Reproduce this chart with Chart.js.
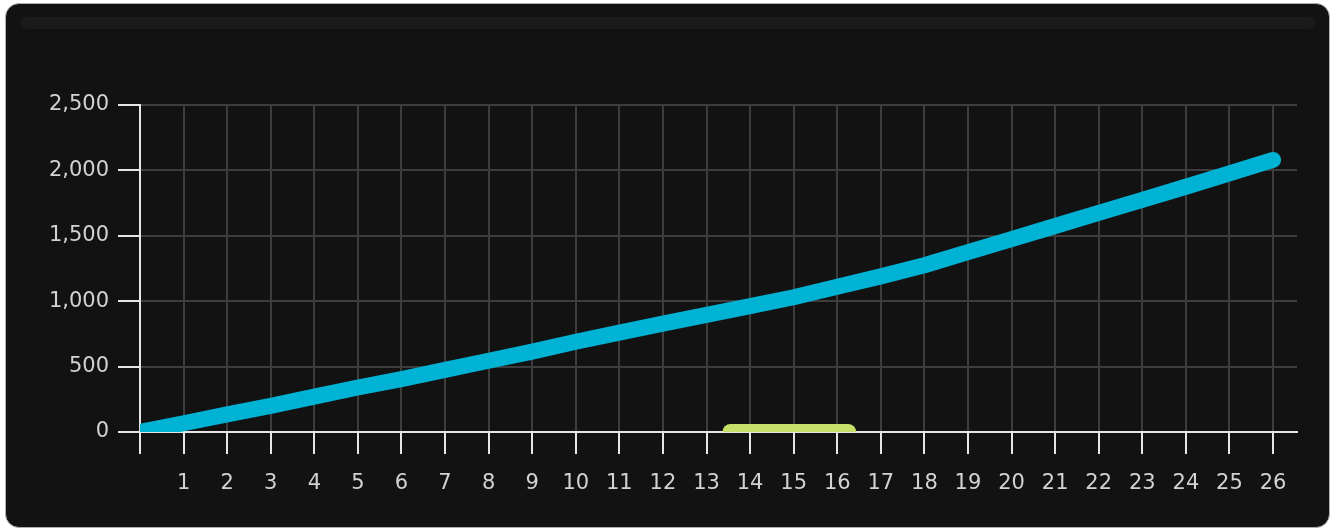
<!DOCTYPE html>
<html>
<head>
<meta charset="utf-8">
<script src="https://cdn.jsdelivr.net/npm/chart.js@4"></script>
<style>
  html, body { margin: 0; padding: 0; background: #ffffff; }
  #caja {
    position: absolute; left: 5px; top: 3px; width: 1323px; height: 523px;
    background: #121212; border: 1px solid #b0b0b0; border-radius: 14px; overflow: hidden;
  }
  #banda {
    position: absolute; left: 14px; top: 13px; width: 1296px; height: 12px;
    background: #1a1a1a; border-radius: 6px;
  }
  #grafico { position: absolute; left: 0; top: 0; }
</style>
</head>
<body>
<div id="caja">
  <div id="banda"></div>
  <canvas id="grafico" width="1323" height="523"></canvas>
</div>
<script>
// valores
const posiciones = [0, 1, 2, 3, 4, 5, 6, 7, 8, 9, 10, 11, 12, 13, 14, 15, 16, 17, 18, 19, 20, 21, 22, 23, 24, 25, 26];
const valoresAzul = [0, 67, 135, 200, 270, 340, 405, 475, 545, 615, 690, 760, 828, 895, 962, 1030, 1110, 1190, 1275, 1375, 1475, 1575, 1675, 1775, 1875, 1978, 2080];
const tramoVerdeX = [13.55, 16.25];
const tramoVerdeY = [0, 0];
const marcasY = [0, 500, 1000, 1500, 2000, 2500];

const fuente = { family: 'DejaVu Sans', size: 21 };

const datosAzul = posiciones.map((x, i) => ({ x: x, y: valoresAzul[i] }));
const datosVerde = tramoVerdeX.map((x, i) => ({ x: x, y: tramoVerdeY[i] }));

const ctx = document.getElementById('grafico').getContext('2d');
new Chart(ctx, {
    type: 'line',
    data: {
        datasets: [
            {
                data: datosVerde,
                borderColor: '#c6df68',
                borderWidth: 16,
                borderCapStyle: 'round',
                pointRadius: 0,
                tension: 0
            },
            {
                data: datosAzul,
                borderColor: '#00b2d4',
                borderWidth: 16,
                borderCapStyle: 'round',
                borderJoinStyle: 'round',
                pointRadius: 0,
                tension: 0
            }
        ]
    },
    options: {
        responsive: false,
        animation: false,
        layout: { padding: { top: 101, right: 32, left: 0, bottom: 0 } },
        plugins: { legend: { display: false }, tooltip: { enabled: false } },
        scales: {
            x: {
                type: 'linear',
                min: 0,
                max: 26.55,
                afterFit: s => { s.height = 95; },
                border: { color: '#e6e6e6', width: 2 },
                grid: { color: '#3d3d3d', lineWidth: 2, tickColor: '#e6e6e6', tickLength: 22 },
                ticks: {
                    stepSize: 1,
                    includeBounds: false,
                    autoSkip: false,
                    maxRotation: 0,
                    padding: 17,
                    color: '#d2d2d2',
                    font: fuente,
                    callback: v => (v === 0 ? '' : String(v))
                }
            },
            y: {
                min: 0,
                max: 2500,
                afterFit: s => { s.width = 134; },
                afterBuildTicks: s => { s.ticks = marcasY.map(v => ({ value: v })); },
                border: { color: '#e6e6e6', width: 2 },
                grid: { color: '#3d3d3d', lineWidth: 2, tickColor: '#e6e6e6', tickLength: 22 },
                ticks: {
                    padding: 9,
                    color: '#d2d2d2',
                    font: fuente,
                    callback: v => v.toLocaleString('en-US')
                }
            }
        }
    }
});
</script>
</body>
</html>
